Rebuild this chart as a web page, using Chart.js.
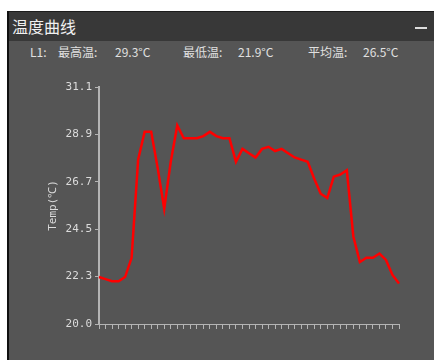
<!DOCTYPE html>
<html><head><meta charset="utf-8">
<script src="https://cdn.jsdelivr.net/npm/chart.js@4.4.1/dist/chart.umd.min.js"></script>
<style>
html,body{margin:0;padding:0;background:#fff;width:434px;height:360px;overflow:hidden;}
#panel{position:absolute;left:7px;top:11px;width:427px;height:349px;background:#555555;border-left:2px solid #111;box-sizing:border-box;}
#titlebar{position:absolute;left:0;top:0;width:425px;height:30px;background:#383838;border-top:1px solid #1c1c1c;box-sizing:border-box;}
#title{position:absolute;left:3px;top:4px;font:16px "Noto Sans CJK SC";color:#f0f0f0;line-height:20px;}
#minbtn{position:absolute;left:406px;top:15px;width:12px;height:2px;background:#ddd;}
.info{position:absolute;top:44px;font:12px "Noto Sans CJK SC";color:#e0e0e0;line-height:16px;white-space:nowrap;}
#wrap{position:absolute;left:9px;top:41px;width:425px;height:319px;}
</style></head>
<body>
<div id="panel">
  <div id="titlebar"><div id="title">温度曲线</div><div id="minbtn"></div></div>
</div>
<div class="info" id="i0" style="left:30px">L1:</div>
<div class="info" id="n1" style="left:58px"></div>
<div class="info" id="v1" style="left:115px"></div>
<div class="info" id="n2" style="left:183px"></div>
<div class="info" id="v2" style="left:238px"></div>
<div class="info" id="n3" style="left:308px"></div>
<div class="info" id="v3" style="left:363px"></div>
<div id="wrap"><canvas id="c"></canvas></div>
<script>
const seriesName = 'L1';
const temps = [22.2, 22.1, 22.0, 22.0, 22.2, 23.1, 27.7, 29.0, 29.0, 27.3,
               25.4, 27.6, 29.3, 28.7, 28.7, 28.7, 28.8, 29.0, 28.8, 28.7,
               28.7, 27.6, 28.2, 28.0, 27.8, 28.2, 28.3, 28.1, 28.2, 28.0,
               27.8, 27.7, 27.6, 26.8, 26.1, 25.9, 26.9, 27.0, 27.2, 24.1,
               22.9, 23.1, 23.1, 23.3, 23.0, 22.3, 21.9];
const categories = temps.map((_, i) => String(i + 1));
const yTickLabels = ['20.0', '22.3', '24.5', '26.7', '28.9', '31.1'];
const statNames = ['最高温', '最低温', '平均温'];
const statValues = ['29.3', '21.9', '26.5'];
const yMin = 20.0, yMax = 31.1;

document.getElementById('i0').textContent = seriesName + ':';
[1, 2, 3].forEach(k => {
  document.getElementById('n' + k).textContent = statNames[k - 1] + ':';
  document.getElementById('v' + k).textContent = statValues[k - 1] + '°C';
});

const axisColor = '#b4b4b4';
new Chart(document.getElementById('c'), {
  type: 'line',
  data: {
    labels: categories,
    datasets: [{
      label: seriesName,
      data: temps,
      borderColor: '#ff0000',
      borderWidth: 2.5,
      pointRadius: 0,
      tension: 0,
      fill: false
    }]
  },
  options: {
    responsive: true,
    maintainAspectRatio: false,
    animation: false,
    layout: { padding: { left: 0, top: 46, right: 35, bottom: 0 } },
    plugins: { legend: { display: false }, tooltip: { enabled: false } },
    scales: {
      x: {
        offset: false,
        grid: { drawOnChartArea: false, drawTicks: true, tickLength: 5, color: axisColor, lineWidth: 1 },
        border: { color: axisColor, width: 1 },
        ticks: { display: false, autoSkip: false },
        afterFit: s => { s.height = 36; }
      },
      y: {
        min: yMin, max: yMax,
        afterBuildTicks: s => {
          s.ticks = yTickLabels.map((l, i) => ({ value: yMin + i * (yMax - yMin) / (yTickLabels.length - 1) }));
        },
        grid: { drawOnChartArea: false, drawTicks: true, tickLength: 4, color: axisColor },
        border: { color: axisColor, width: 2 },
        ticks: {
          color: '#dcdcdc', padding: 3,
          font: { family: 'DejaVu Sans Mono', size: 11 },
          callback: (v, i) => yTickLabels[i]
        },
        title: {
          display: true, text: 'Temp(℃)', color: '#dcdcdc',
          font: { family: 'DejaVu Sans Mono', size: 11 },
          padding: { top: 38, bottom: 0 }
        },
        afterFit: s => { s.width = 90; }
      }
    }
  }
});
</script>
</body></html>
